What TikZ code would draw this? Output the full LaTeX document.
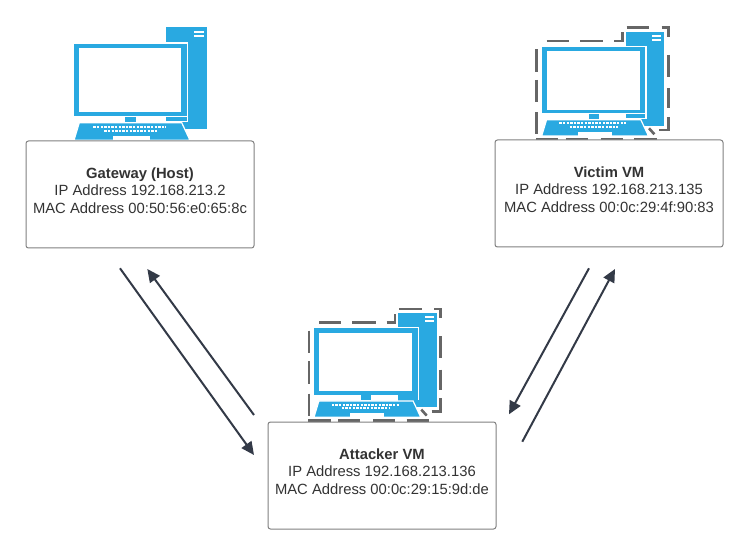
\documentclass[tikz,border=0pt]{standalone}
\usepackage{fontspec}
\setmainfont{Liberation Sans}
\usetikzlibrary{arrows.meta}
\definecolor{pcblue}{HTML}{29A9E1}
\definecolor{dashgray}{HTML}{666666}
\definecolor{boxgray}{HTML}{808080}
\definecolor{linedark}{HTML}{333A47}
\definecolor{txt}{HTML}{333333}
\tikzset{
  x=1pt,y=-1pt,
  hostbox/.style={draw=boxgray,line width=1pt,fill=white,rounded corners=2.5pt,minimum width=228pt,minimum height=107pt,align=center,text=txt,font=\fontsize{14.8}{17.5}\selectfont,inner sep=0pt},
  link/.style={draw=linedark,line width=2pt,-{Triangle[length=13pt,width=12pt]}},
  frameline/.style={draw=dashgray,line width=2.6pt},
  pics/pcicon/.style={code={
    \fill[pcblue] (91.7,-16.7) rectangle (133.3,85.6);
    \fill[white] (120.3,-13) rectangle (130,-11);
    \fill[white] (120.3,-8.7) rectangle (130,-6.7);
    \fill[white] (-1.5,-1.5) rectangle (114.2,78);
    \fill[pcblue] (91.7,73) rectangle (112.7,77.5);
    \fill[pcblue] (0,0) rectangle (112.7,72);
    \fill[white] (5.3,4.7) rectangle (107,68);
    \fill[pcblue] (51.3,73) rectangle (62,78);
    \filldraw[fill=pcblue,draw=white,line width=1.2pt] (5.3,79) -- (107.7,79) -- (116,96.6) -- (0,96.6) -- cycle;
    \draw[white,line width=2pt,dash pattern=on 2.4pt off 1.2pt] (19.3,83) -- (92,83);
    \draw[white,line width=2pt,dash pattern=on 2.4pt off 1.2pt] (30.3,87) -- (82.7,87);
    \fill[white] (39.3,92.3) rectangle (76,96.6);
  }},
  pics/vmframe/.style={code={
    \foreach \a/\b in {-5.7/16.7,24/46,59/81,92.7/115}
      \draw[frameline] (\a,92.3) -- (\b,92.3);
    \draw[frameline] (107.3,81.3) -- (112.7,87.3);
    \draw[frameline] (117.7,83) -- (126.7,83) -- (126.7,69.7);
    \draw[frameline] (126.7,41.3) -- (126.7,61.3);
    \draw[frameline] (126.7,8) -- (126.7,29.7);
    \draw[frameline] (120,-19.3) -- (126.7,-19.3) -- (126.7,-10.3);
    \draw[frameline] (85,-19.3) -- (107.7,-19.3);
    \draw[frameline] (72.7,-6) -- (81,-6) -- (81,-14.7);
    \draw[frameline] (38.3,-6) -- (61.7,-6);
    \draw[frameline] (5,-6) -- (27.3,-6);
    \foreach \a/\b in {2.3/24.7,33/55.3,65.3/87.3}
      \draw[frameline] (-5,\a) -- (-5,\b);
  }}
}
\begin{document}
\begin{tikzpicture}
\useasboundingbox (0,0) rectangle (750,556);
\fill[white] (0,0) rectangle (750,556);
\pic at (74,43.7) {pcicon};
\pic[scale=0.92] at (541.7,47) {pcicon};
\pic at (541.7,47) {vmframe};
\pic[scale=0.92] at (314,328.3) {pcicon};
\pic at (314,328.3) {vmframe};
\node[hostbox] (gateway) at (140,194.5) {\textbf{Gateway (Host)}\\IP Address 192.168.213.2\\MAC Address 00:50:56:e0:65:8c\\[-9pt]\mbox{}};
\node[hostbox] (victim) at (609,193.5) {\textbf{Victim VM}\\IP Address 192.168.213.135\\MAC Address 00:0c:29:4f:90:83\\[-9pt]\mbox{}};
\node[hostbox] (attacker) at (382,475.5) {\textbf{Attacker VM}\\IP Address 192.168.213.136\\MAC Address 00:0c:29:15:9d:de\\[-9pt]\mbox{}};
\coordinate (g1) at (120,268.3);
\coordinate (a1) at (254,455);
\coordinate (a2) at (254,415);
\coordinate (g2) at (147.3,269);
\coordinate (v1) at (589,268.3);
\coordinate (a3) at (509,414.3);
\coordinate (a4) at (522.3,441.7);
\coordinate (v2) at (615,269);
\draw[link] (g1) -- (a1);
\draw[link] (a2) -- (g2);
\draw[link] (v1) -- (a3);
\draw[link] (a4) -- (v2);
\end{tikzpicture}
\end{document}
